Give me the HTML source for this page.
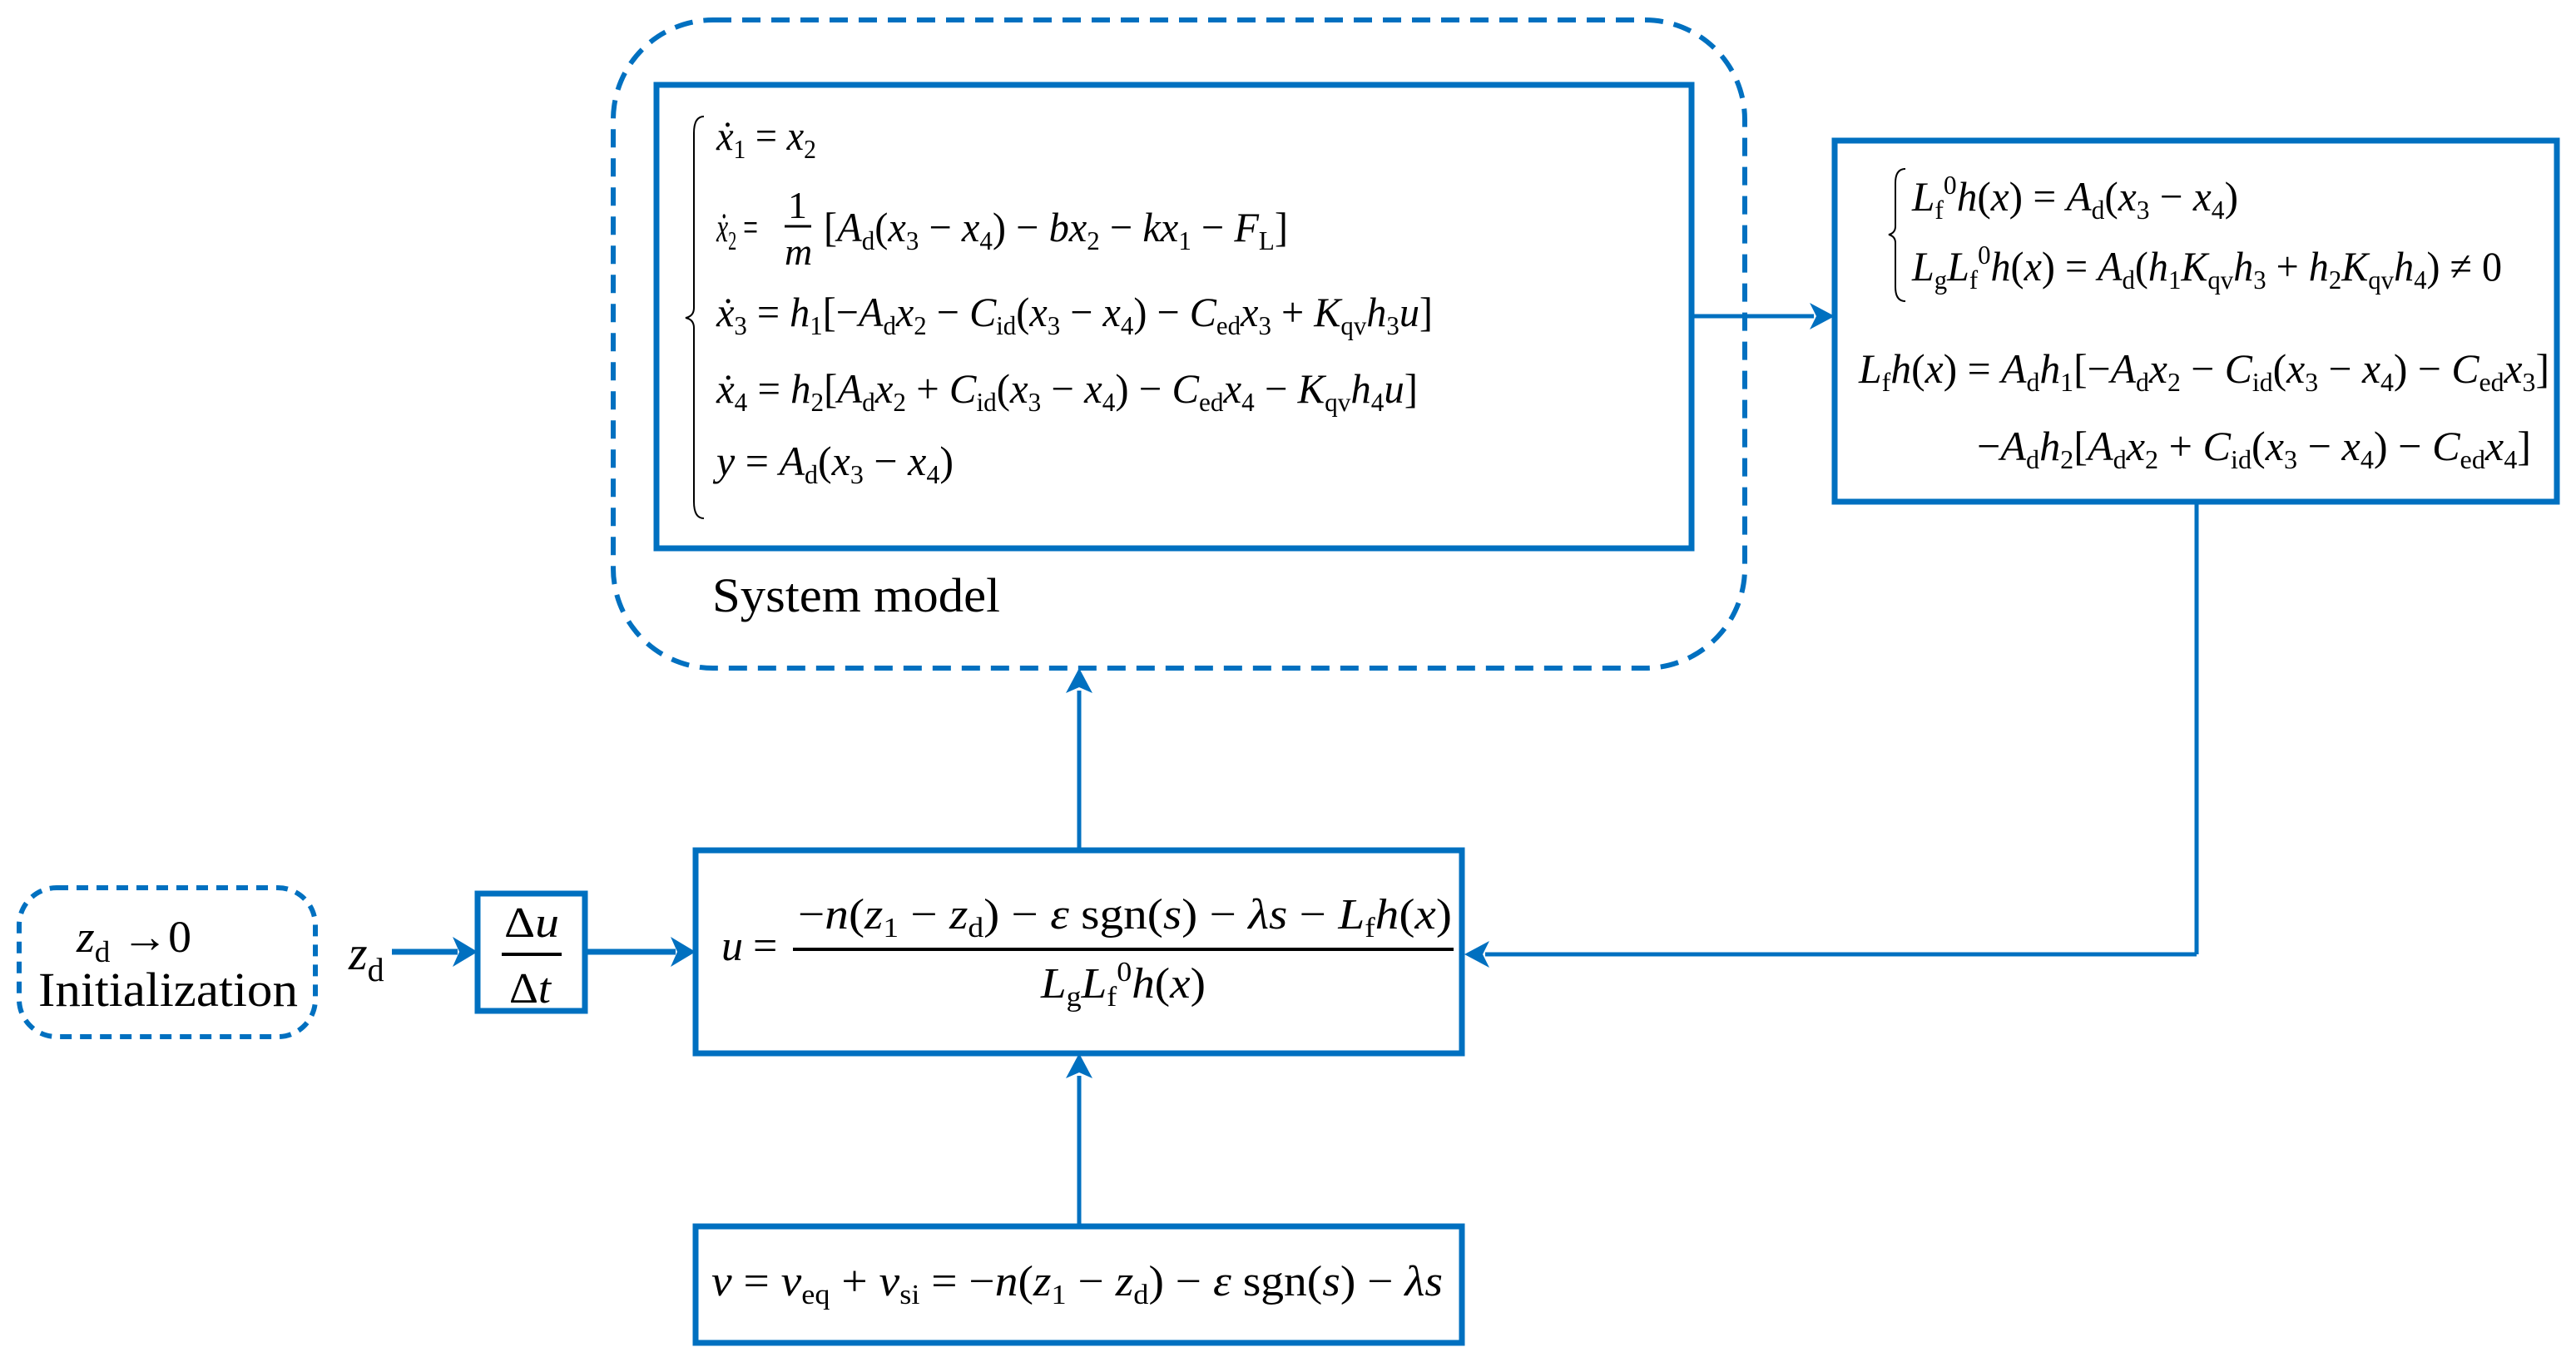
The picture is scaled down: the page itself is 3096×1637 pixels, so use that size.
<!DOCTYPE html>
<html><head><meta charset="utf-8"><style>
html,body{margin:0;padding:0;background:#fff;}
svg{display:block;}
text{font-family:"Liberation Serif",serif;fill:#000;}
.i{font-style:italic;}
</style></head><body>
<svg width="3096" height="1637" viewBox="0 0 3096 1637" xmlns="http://www.w3.org/2000/svg">
<defs>
<marker id="ah" markerWidth="10" markerHeight="10" refX="9" refY="5" orient="auto" markerUnits="userSpaceOnUse" viewBox="0 0 10 10">
</marker>
</defs>
<g fill="none" stroke="#0070C0">
<rect x="737" y="24" width="1360" height="779" rx="120" stroke-width="6" stroke-dasharray="22 13"/>
<rect x="789" y="102" width="1244" height="557" stroke-width="7"/>
<rect x="2205" y="169" width="868" height="434" stroke-width="7"/>
<rect x="23" y="1067" width="356" height="179" rx="45" stroke-width="6" stroke-dasharray="14 10"/>
<rect x="574" y="1074" width="129" height="141" stroke-width="7"/>
<rect x="836" y="1022" width="921" height="244" stroke-width="7"/>
<rect x="836" y="1474" width="921" height="140" stroke-width="7"/>
<g stroke-width="5">
<line x1="2033" y1="380" x2="2180" y2="380"/>
<line x1="2640" y1="603" x2="2640" y2="1147"/>
<line x1="2640" y1="1147" x2="1785" y2="1147"/>
<line x1="1297" y1="1022" x2="1297" y2="830"/>
<line x1="1297" y1="1474" x2="1297" y2="1293"/>
<line x1="471" y1="1144" x2="550" y2="1144" stroke-width="7"/>
<line x1="703" y1="1144" x2="812" y2="1144" stroke-width="7"/>
</g>
</g>
<g fill="#0070C0">
<polygon points="2205,380 2175,364 2183,380 2175,396"/>
<polygon points="1760,1147 1790,1131 1782,1147 1790,1163"/>
<polygon points="1297,803 1281,833 1297,826 1313,833"/>
<polygon points="1297,1266 1281,1296 1297,1289 1313,1296"/>
<polygon points="574,1144 544,1126 552,1144 544,1162"/>
<polygon points="836,1144 806,1126 814,1144 806,1162"/>
</g>
<line x1="603" y1="1147" x2="675" y2="1147" stroke="#000" stroke-width="4"/>
<line x1="953" y1="1141" x2="1747" y2="1141" stroke="#000" stroke-width="4"/>
<!-- braces -->
<path d="M846 140 Q834 140 834 160 L834 370 Q834 380 824 382 Q834 384 834 394 L834 603 Q834 623 846 623" fill="none" stroke="#000" stroke-width="2"/>
<path d="M2290 203 Q2278 203 2278 220 L2278 272 Q2278 280 2270 282 Q2278 284 2278 292 L2278 345 Q2278 362 2290 362" fill="none" stroke="#000" stroke-width="2"/>
<!-- system model equations -->
<g font-size="50">
<text x="861" y="180" textLength="120" lengthAdjust="spacingAndGlyphs"><tspan class="i">x&#775;</tspan><tspan font-size="32" dy="10">1</tspan><tspan dy="-10"> = </tspan><tspan class="i">x</tspan><tspan font-size="32" dy="10">2</tspan></text>
<text x="861" y="290" textLength="50" lengthAdjust="spacingAndGlyphs"><tspan class="i">x&#775;</tspan><tspan font-size="32" dy="10">2</tspan><tspan dy="-10"> =</tspan></text>
<text x="947" y="262" font-size="46">1</text>
<line x1="943" y1="272" x2="975" y2="272" stroke="#000" stroke-width="3"/>
<text x="943" y="318" class="i" font-size="46">m</text>
<text x="990" y="290" textLength="558" lengthAdjust="spacingAndGlyphs">[<tspan class="i">A</tspan><tspan font-size="32" dy="10">d</tspan><tspan dy="-10">(</tspan><tspan class="i">x</tspan><tspan font-size="32" dy="10">3</tspan><tspan dy="-10"> − </tspan><tspan class="i">x</tspan><tspan font-size="32" dy="10">4</tspan><tspan dy="-10">) − </tspan><tspan class="i">bx</tspan><tspan font-size="32" dy="10">2</tspan><tspan dy="-10"> − </tspan><tspan class="i">kx</tspan><tspan font-size="32" dy="10">1</tspan><tspan dy="-10"> − </tspan><tspan class="i">F</tspan><tspan font-size="32" dy="10">L</tspan><tspan dy="-10">]</tspan></text>
<text x="861" y="392" textLength="861" lengthAdjust="spacingAndGlyphs"><tspan class="i">x&#775;</tspan><tspan font-size="32" dy="10">3</tspan><tspan dy="-10"> = </tspan><tspan class="i">h</tspan><tspan font-size="32" dy="10">1</tspan><tspan dy="-10">[−</tspan><tspan class="i">A</tspan><tspan font-size="32" dy="10">d</tspan><tspan dy="-10" class="i">x</tspan><tspan font-size="32" dy="10">2</tspan><tspan dy="-10"> − </tspan><tspan class="i">C</tspan><tspan font-size="32" dy="10">id</tspan><tspan dy="-10">(</tspan><tspan class="i">x</tspan><tspan font-size="32" dy="10">3</tspan><tspan dy="-10"> − </tspan><tspan class="i">x</tspan><tspan font-size="32" dy="10">4</tspan><tspan dy="-10">) − </tspan><tspan class="i">C</tspan><tspan font-size="32" dy="10">ed</tspan><tspan dy="-10" class="i">x</tspan><tspan font-size="32" dy="10">3</tspan><tspan dy="-10"> + </tspan><tspan class="i">K</tspan><tspan font-size="32" dy="10">qv</tspan><tspan dy="-10" class="i">h</tspan><tspan font-size="32" dy="10">3</tspan><tspan dy="-10" class="i">u</tspan><tspan>]</tspan></text>
<text x="861" y="484" textLength="843" lengthAdjust="spacingAndGlyphs"><tspan class="i">x&#775;</tspan><tspan font-size="32" dy="10">4</tspan><tspan dy="-10"> = </tspan><tspan class="i">h</tspan><tspan font-size="32" dy="10">2</tspan><tspan dy="-10">[</tspan><tspan class="i">A</tspan><tspan font-size="32" dy="10">d</tspan><tspan dy="-10" class="i">x</tspan><tspan font-size="32" dy="10">2</tspan><tspan dy="-10"> + </tspan><tspan class="i">C</tspan><tspan font-size="32" dy="10">id</tspan><tspan dy="-10">(</tspan><tspan class="i">x</tspan><tspan font-size="32" dy="10">3</tspan><tspan dy="-10"> − </tspan><tspan class="i">x</tspan><tspan font-size="32" dy="10">4</tspan><tspan dy="-10">) − </tspan><tspan class="i">C</tspan><tspan font-size="32" dy="10">ed</tspan><tspan dy="-10" class="i">x</tspan><tspan font-size="32" dy="10">4</tspan><tspan dy="-10"> − </tspan><tspan class="i">K</tspan><tspan font-size="32" dy="10">qv</tspan><tspan dy="-10" class="i">h</tspan><tspan font-size="32" dy="10">4</tspan><tspan dy="-10" class="i">u</tspan><tspan>]</tspan></text>
<text x="861" y="571" textLength="285" lengthAdjust="spacingAndGlyphs"><tspan class="i">y</tspan> = <tspan class="i">A</tspan><tspan font-size="32" dy="10">d</tspan><tspan dy="-10">(</tspan><tspan class="i">x</tspan><tspan font-size="32" dy="10">3</tspan><tspan dy="-10"> − </tspan><tspan class="i">x</tspan><tspan font-size="32" dy="10">4</tspan><tspan dy="-10">)</tspan></text>
</g>
<text x="856" y="735" font-size="58" textLength="346" lengthAdjust="spacingAndGlyphs">System model</text>
<!-- right box -->
<g font-size="50">
<text x="2298" y="253" textLength="392" lengthAdjust="spacingAndGlyphs"><tspan class="i">L</tspan><tspan font-size="32" dy="10">f</tspan><tspan font-size="32" dy="-30">0</tspan><tspan dy="20" class="i">h</tspan>(<tspan class="i">x</tspan>) = <tspan class="i">A</tspan><tspan font-size="32" dy="10">d</tspan><tspan dy="-10">(</tspan><tspan class="i">x</tspan><tspan font-size="32" dy="10">3</tspan><tspan dy="-10"> − </tspan><tspan class="i">x</tspan><tspan font-size="32" dy="10">4</tspan><tspan dy="-10">)</tspan></text>
<text x="2298" y="337" textLength="709" lengthAdjust="spacingAndGlyphs"><tspan class="i">L</tspan><tspan font-size="32" dy="10">g</tspan><tspan dy="-10" class="i">L</tspan><tspan font-size="32" dy="10">f</tspan><tspan font-size="32" dy="-30">0</tspan><tspan dy="20" class="i">h</tspan>(<tspan class="i">x</tspan>) = <tspan class="i">A</tspan><tspan font-size="32" dy="10">d</tspan><tspan dy="-10">(</tspan><tspan class="i">h</tspan><tspan font-size="32" dy="10">1</tspan><tspan dy="-10" class="i">K</tspan><tspan font-size="32" dy="10">qv</tspan><tspan dy="-10" class="i">h</tspan><tspan font-size="32" dy="10">3</tspan><tspan dy="-10"> + </tspan><tspan class="i">h</tspan><tspan font-size="32" dy="10">2</tspan><tspan dy="-10" class="i">K</tspan><tspan font-size="32" dy="10">qv</tspan><tspan dy="-10" class="i">h</tspan><tspan font-size="32" dy="10">4</tspan><tspan dy="-10">) ≠ 0</tspan></text>
<text x="2234" y="460" textLength="830" lengthAdjust="spacingAndGlyphs"><tspan class="i">L</tspan><tspan font-size="32" dy="10">f</tspan><tspan dy="-10" class="i">h</tspan>(<tspan class="i">x</tspan>) = <tspan class="i">A</tspan><tspan font-size="32" dy="10">d</tspan><tspan dy="-10" class="i">h</tspan><tspan font-size="32" dy="10">1</tspan><tspan dy="-10">[−</tspan><tspan class="i">A</tspan><tspan font-size="32" dy="10">d</tspan><tspan dy="-10" class="i">x</tspan><tspan font-size="32" dy="10">2</tspan><tspan dy="-10"> − </tspan><tspan class="i">C</tspan><tspan font-size="32" dy="10">id</tspan><tspan dy="-10">(</tspan><tspan class="i">x</tspan><tspan font-size="32" dy="10">3</tspan><tspan dy="-10"> − </tspan><tspan class="i">x</tspan><tspan font-size="32" dy="10">4</tspan><tspan dy="-10">) − </tspan><tspan class="i">C</tspan><tspan font-size="32" dy="10">ed</tspan><tspan dy="-10" class="i">x</tspan><tspan font-size="32" dy="10">3</tspan><tspan dy="-10">]</tspan></text>
<text x="2376" y="553" textLength="666" lengthAdjust="spacingAndGlyphs">−<tspan class="i">A</tspan><tspan font-size="32" dy="10">d</tspan><tspan dy="-10" class="i">h</tspan><tspan font-size="32" dy="10">2</tspan><tspan dy="-10">[</tspan><tspan class="i">A</tspan><tspan font-size="32" dy="10">d</tspan><tspan dy="-10" class="i">x</tspan><tspan font-size="32" dy="10">2</tspan><tspan dy="-10"> + </tspan><tspan class="i">C</tspan><tspan font-size="32" dy="10">id</tspan><tspan dy="-10">(</tspan><tspan class="i">x</tspan><tspan font-size="32" dy="10">3</tspan><tspan dy="-10"> − </tspan><tspan class="i">x</tspan><tspan font-size="32" dy="10">4</tspan><tspan dy="-10">) − </tspan><tspan class="i">C</tspan><tspan font-size="32" dy="10">ed</tspan><tspan dy="-10" class="i">x</tspan><tspan font-size="32" dy="10">4</tspan><tspan dy="-10">]</tspan></text>
</g>
<!-- init -->
<text x="92" y="1144" font-size="54" textLength="138" lengthAdjust="spacingAndGlyphs"><tspan class="i">z</tspan><tspan font-size="36" dy="12">d</tspan><tspan dy="-12"> →0</tspan></text>
<text x="46" y="1209" font-size="58" textLength="312" lengthAdjust="spacingAndGlyphs">Initialization</text>
<text x="419" y="1165" font-size="58"><tspan class="i">z</tspan><tspan font-size="40" dy="14">d</tspan></text>
<text x="606" y="1126" font-size="52" textLength="66" lengthAdjust="spacingAndGlyphs">Δ<tspan class="i">u</tspan></text>
<text x="612" y="1205" font-size="52" textLength="50" lengthAdjust="spacingAndGlyphs">Δ<tspan class="i">t</tspan></text>
<!-- u box -->
<g font-size="52">
<text x="867" y="1154" class="i">u</text><text x="905" y="1154">=</text>
<text x="959" y="1116" textLength="786" lengthAdjust="spacingAndGlyphs">−<tspan class="i">n</tspan>(<tspan class="i">z</tspan><tspan font-size="34" dy="10">1</tspan><tspan dy="-10"> − </tspan><tspan class="i">z</tspan><tspan font-size="34" dy="10">d</tspan><tspan dy="-10">) − </tspan><tspan class="i">ε</tspan> sgn(<tspan class="i">s</tspan>) − <tspan class="i">λs</tspan> − <tspan class="i">L</tspan><tspan font-size="34" dy="10">f</tspan><tspan dy="-10" class="i">h</tspan>(<tspan class="i">x</tspan>)</text>
<text x="1251" y="1199" textLength="198" lengthAdjust="spacingAndGlyphs"><tspan class="i">L</tspan><tspan font-size="34" dy="10">g</tspan><tspan dy="-10" class="i">L</tspan><tspan font-size="34" dy="10">f</tspan><tspan font-size="34" dy="-30">0</tspan><tspan dy="20" class="i">h</tspan>(<tspan class="i">x</tspan>)</text>
<text x="855" y="1557" textLength="879" lengthAdjust="spacingAndGlyphs"><tspan class="i">v</tspan> = <tspan class="i">v</tspan><tspan font-size="34" dy="10">eq</tspan><tspan dy="-10"> + </tspan><tspan class="i">v</tspan><tspan font-size="34" dy="10">si</tspan><tspan dy="-10"> = −</tspan><tspan class="i">n</tspan>(<tspan class="i">z</tspan><tspan font-size="34" dy="10">1</tspan><tspan dy="-10"> − </tspan><tspan class="i">z</tspan><tspan font-size="34" dy="10">d</tspan><tspan dy="-10">) − </tspan><tspan class="i">ε</tspan> sgn(<tspan class="i">s</tspan>) − <tspan class="i">λs</tspan></text>
</g>
</svg>
</body></html>
